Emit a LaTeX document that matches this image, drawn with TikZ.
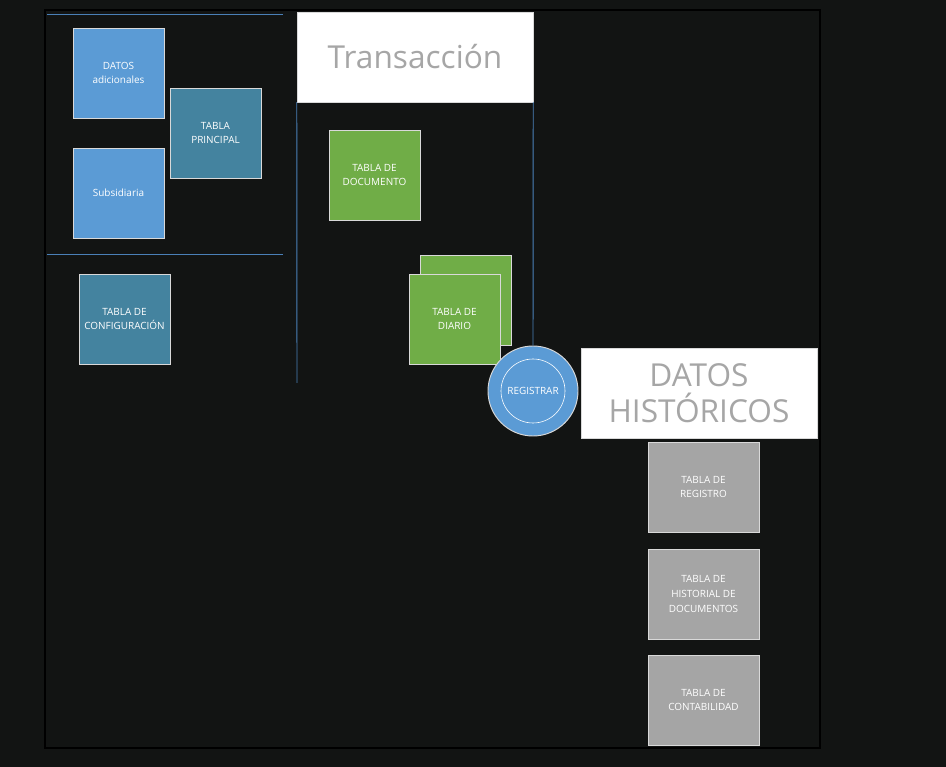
\documentclass[tikz,border=0pt]{standalone}
\usepackage{fontspec}
\setmainfont{Open Sans}
\definecolor{bgdark}{HTML}{121413}
\definecolor{sepblue}{HTML}{4A80B8}
\definecolor{lightblue}{HTML}{5B9BD5}
\definecolor{tealblue}{HTML}{44839F}
\definecolor{leafgreen}{HTML}{70AD47}
\definecolor{midgrey}{HTML}{A5A5A5}
\definecolor{titlegrey}{HTML}{A6A6A6}
\tikzset{
  tbl/.style={draw=white!85!black, line width=0.6pt, text=white,
    minimum width=2.73cm, minimum height=2.7cm, align=center, inner sep=1pt,
    font=\fontsize{8.5}{12.5}\selectfont},
  widetbl/.style={tbl, minimum width=3.33cm},
  titlebox/.style={draw=white!85!black, fill=white, text=titlegrey,
    minimum width=7.08cm, minimum height=2.7cm, align=center,
    font=\fontsize{27}{31}\selectfont},
  sep/.style={sepblue, line width=0.8pt}
}
\begin{document}
\begin{tikzpicture}[x=0.03cm, y=-0.03cm]
\fill[bgdark] (0,0) rectangle (946,767);
\useasboundingbox (0,0) rectangle (946,767);
\draw[black, line width=1pt] (45,10) rectangle (820,748);
% izquierda
\coordinate (s1a) at (47,14);
\coordinate (s1b) at (283,14);
\coordinate (s2a) at (47,254);
\coordinate (s2b) at (283,254);
\draw[sep] (s1a) -- (s1b);
\draw[sep] (s2a) -- (s2b);
\node[tbl, fill=lightblue] (datos) at (118.5,73) {DATOS\\adicionales};
\node[tbl, fill=lightblue] (subs) at (118.5,193) {Subsidiaria};
\node[tbl, fill=tealblue] (princ) at (215.5,133) {TABLA\\PRINCIPAL};
\node[tbl, fill=tealblue] (config) at (124.5,319) {TABLA DE\\CONFIGURACIÓN};
% transaccion
\node[titlebox] (trans) at (415,57) {Transacción};
\node[tbl, fill=leafgreen] (doc) at (374.5,175) {TABLA DE\\DOCUMENTO};
\node[tbl, fill=leafgreen] (diario2) at (465.5,300) {};
\node[tbl, fill=leafgreen] (diario) at (454.5,319) {TABLA DE\\DIARIO};
\node[draw=white!85!black, line width=0.8pt, fill=lightblue, circle, minimum size=2.7cm] (reg) at (533,391) {};
\node[draw=white, line width=0.5pt, circle, minimum size=1.92cm, text=white,
  font=\fontsize{8.5}{10}\selectfont, inner sep=0pt] (regin) at (reg) {REGISTRAR};
\coordinate (tl) at (297,383);
\draw[sep] (trans.south west) -- (tl);
\draw[sep] (trans.south east) -- (reg.north);
% historicos
\node[titlebox] (hist) at (699,393) {DATOS\\HISTÓRICOS};
\node[widetbl, fill=midgrey] (registro) at (703.5,487) {TABLA DE\\REGISTRO};
\node[widetbl, fill=midgrey] (historial) at (703.5,594) {TABLA DE\\HISTORIAL DE\\DOCUMENTOS};
\node[widetbl, fill=midgrey] (contab) at (703.5,700) {TABLA DE\\CONTABILIDAD};
\end{tikzpicture}
\end{document}
